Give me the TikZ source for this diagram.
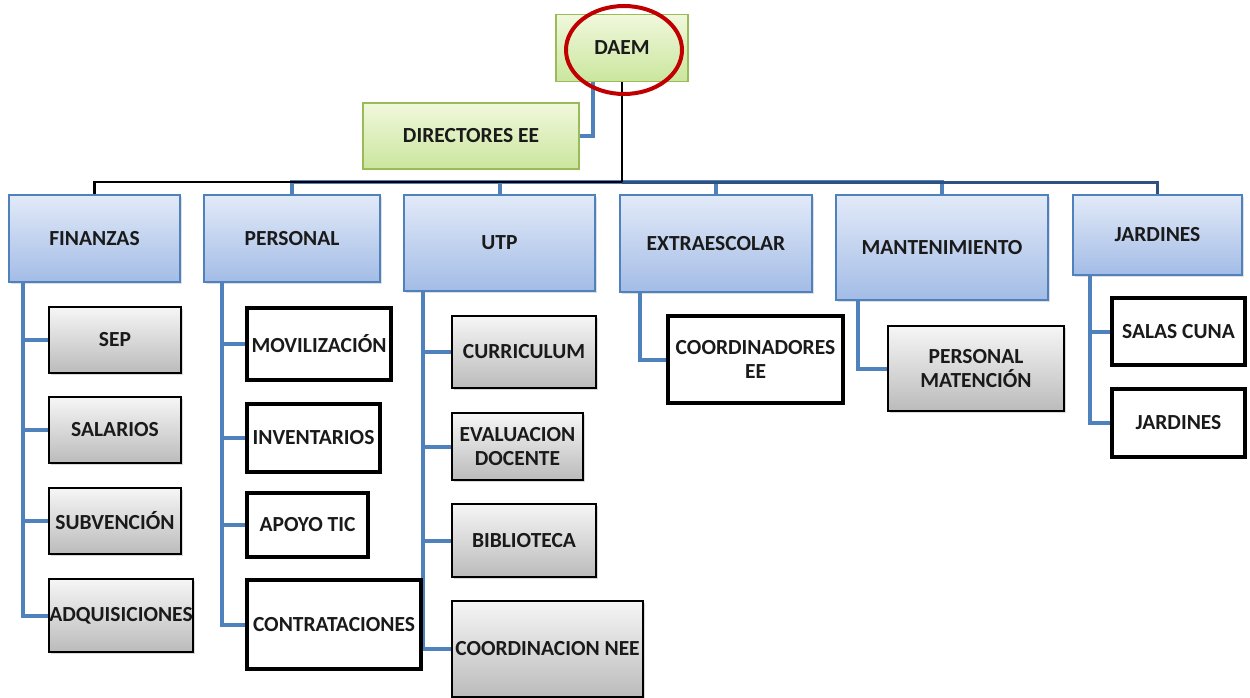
\documentclass[tikz,border=0pt]{standalone}
\usepackage{fontspec}
\setmainfont{Carlito}
\usetikzlibrary{shapes.geometric,shadows,backgrounds}
\definecolor{bluebd}{HTML}{4F81BD}
\definecolor{bluetop}{HTML}{E2EAF8}
\definecolor{bluebot}{HTML}{A3BCE6}
\definecolor{graytop}{HTML}{F6F6F6}
\definecolor{graybot}{HTML}{BBBBBB}
\definecolor{greentop}{HTML}{F0F8DC}
\definecolor{greenbot}{HTML}{CBE69E}
\definecolor{greenbd}{HTML}{9BBB59}
\definecolor{redring}{HTML}{C00000}
\definecolor{navy}{HTML}{2F5080}
\definecolor{txt}{HTML}{1A1A1A}
\tikzset{
  base/.style={inner sep=0pt, align=center, text=txt,
    font=\bfseries\fontsize{21.5}{24}\selectfont},
  greenbox/.style={base, draw=greenbd, line width=1.5pt, top color=greentop, bottom color=greenbot},
  bluebox/.style={base, draw=bluebd, line width=1.5pt, top color=bluetop, bottom color=bluebot,
    drop shadow={opacity=0.25, shadow xshift=2pt, shadow yshift=-2pt}},
  graybox/.style={base, draw=black, line width=1.8pt, top color=graytop, bottom color=graybot,
    drop shadow={opacity=0.3, shadow xshift=2pt, shadow yshift=-2pt}},
  whitebox/.style={base, draw=black, line width=3.5pt, fill=white},
  conn/.style={draw=bluebd, line width=4pt},
  busblack/.style={draw=black, line width=2.5pt},
  busblue/.style={draw=navy, line width=3pt},
  ring/.style={ellipse, draw=redring, line width=4pt, inner sep=0pt}
}
\begin{document}
\begin{tikzpicture}[x=1pt,y=-1pt]
\useasboundingbox (0,0) rectangle (1250,698);

% top level
\node[greenbox, minimum width=132pt, minimum height=67pt] (daem) at (622,48) {DAEM};
\node[greenbox, minimum width=216pt, minimum height=66pt] (dir) at (471,136) {DIRECTORES EE};
\coordinate (bus) at (622,182);

% level 1
\node[bluebox, minimum width=171pt, minimum height=87pt] (fin) at (94.5,238.5) {FINANZAS};
\node[bluebox, minimum width=176pt, minimum height=87pt] (per) at (292,238.5) {PERSONAL};
\node[bluebox, minimum width=191pt, minimum height=96pt] (utp) at (499.5,243) {UTP};
\node[bluebox, minimum width=192pt, minimum height=97pt] (ext) at (716,243.5) {EXTRAESCOLAR};
\node[bluebox, minimum width=212pt, minimum height=105pt] (man) at (942,247.5) {MANTENIMIENTO};
\node[bluebox, minimum width=169pt, minimum height=80pt] (jar) at (1157.5,235) {JARDINES};

% finanzas children
\node[graybox, minimum width=132pt, minimum height=66pt] (sep) at (115,340) {SEP};
\node[graybox, minimum width=132pt, minimum height=66pt] (sal) at (115,430) {SALARIOS};
\node[graybox, minimum width=132pt, minimum height=66pt] (sub) at (115,521) {SUBVENCIÓN};
\node[graybox, minimum width=144pt, minimum height=73pt] (adq) at (121,615.5) {ADQUISICIONES};

% personal children
\node[whitebox, minimum width=144pt, minimum height=72pt] (mov) at (319,344) {MOVILIZACIÓN};
\node[whitebox, minimum width=133pt, minimum height=68pt] (inv) at (313.5,438) {INVENTARIOS};
\node[whitebox, minimum width=121pt, minimum height=64pt] (apo) at (307.5,525) {APOYO TIC};

% utp children
\node[graybox, minimum width=144pt, minimum height=72pt] (cur) at (524,352) {CURRICULUM};
\node[graybox, minimum width=131pt, minimum height=67pt] (eva) at (517.5,446.5) {EVALUACION\\DOCENTE};
\node[graybox, minimum width=144pt, minimum height=73pt] (bib) at (524,540.5) {BIBLIOTECA};
\node[graybox, minimum width=191pt, minimum height=96pt] (nee) at (547.5,649) {COORDINACION NEE};

% extraescolar, mantenimiento, jardines children
\node[whitebox, minimum width=175pt, minimum height=87pt] (coo) at (755.5,359.5) {COORDINADORES\\EE};
\node[graybox, minimum width=176pt, minimum height=85pt] (pm) at (976,368.5) {PERSONAL\\MATENCIÓN};
\node[whitebox, minimum width=133pt, minimum height=67pt] (sc) at (1178.5,331.5) {SALAS CUNA};
\node[whitebox, minimum width=133pt, minimum height=68pt] (jd) at (1178.5,423) {JARDINES};

\node[whitebox, minimum width=174pt, minimum height=89pt] (con) at (334,624.5) {CONTRATACIONES};

% connectors
\begin{scope}[on background layer]
\draw[conn] (dir.east) -| ([xshift=-29pt]daem.south);
\draw[conn] (bus) -| (per.north);
\draw[conn] (bus) -| (utp.north);
\draw[conn] (bus) -| (ext.north);
\draw[conn] (bus) -| (man.north);
\draw[busblue] (bus) -| (jar.north);
\draw[busblack] (daem.south) -- (bus);
\draw[busblack] (bus) -| (fin.north);

\foreach \c in {sep,sal,sub,adq} \draw[conn] ([xshift=-71.5pt]fin.south) |- (\c.west);
\foreach \c in {mov,inv,apo,con} \draw[conn] ([xshift=-70pt]per.south) |- (\c.west);
\foreach \c in {cur,eva,bib,nee} \draw[conn] ([xshift=-76.5pt]utp.south) |- (\c.west);
\draw[conn] ([xshift=-76pt]ext.south) |- (coo.west);
\draw[conn] ([xshift=-84pt]man.south) |- (pm.west);
\foreach \c in {sc,jd} \draw[conn] ([xshift=-67.5pt]jar.south) |- (\c.west);
\end{scope}

% red ring
\node[ring, minimum width=116pt, minimum height=88pt] (ringnode) at (624,50) {};
\end{tikzpicture}
\end{document}
